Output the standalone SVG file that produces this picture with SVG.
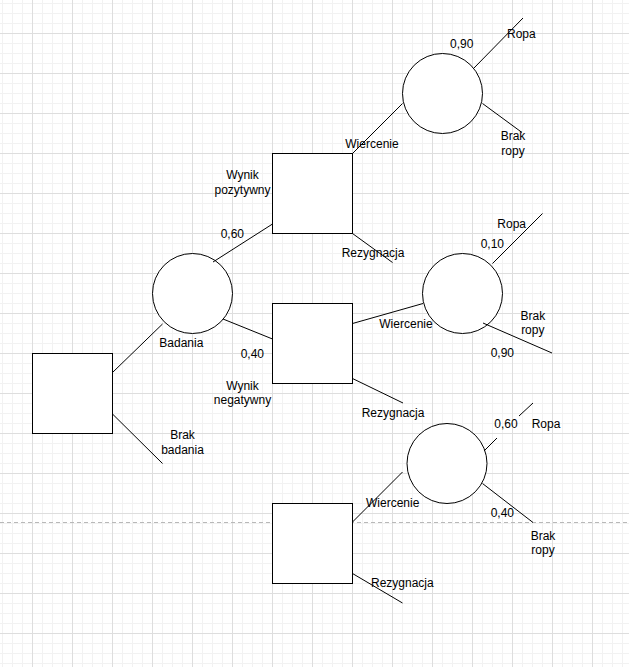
<svg xmlns="http://www.w3.org/2000/svg" width="629" height="667" viewBox="0 0 629 667">
  <defs>
    <pattern id="minor" patternUnits="userSpaceOnUse" x="2" y="3" width="10" height="10">
      <path d="M0 0.5H10M0.5 0V10" fill="none" stroke="#f2f2f2" stroke-width="1"/>
    </pattern>
    <pattern id="major" patternUnits="userSpaceOnUse" x="32" y="33" width="40" height="40">
      <path d="M0 0.5H40M0.5 0V40" fill="none" stroke="#dedede" stroke-width="1"/>
    </pattern>
  </defs>
  <style>
    .shape { fill: #ffffff; stroke: #000000; stroke-width: 1; }
    .edge { fill: none; stroke: #000000; stroke-width: 1; }
    text { font-family: "Liberation Sans", Arial, Helvetica, sans-serif; font-size: 12px; fill: #000000; }
    .c { text-anchor: middle; }
  </style>
  <rect x="0" y="0" width="629" height="667" fill="#ffffff"/>
  <rect x="0" y="0" width="629" height="667" fill="url(#minor)"/>
  <rect x="0" y="0" width="629" height="667" fill="url(#major)"/>
  <line x1="0" y1="522.5" x2="629" y2="522.5" stroke="#b8b8b8" stroke-width="1" stroke-dasharray="4 3"/>

  <g id="decision-start"><rect class="shape" x="32.5" y="353.5" width="80" height="80"/></g>
  <g id="chance-badania"><circle class="shape" cx="192.5" cy="293.5" r="40"/></g>
  <g id="decision-pozytywny"><rect class="shape" x="272.5" y="153.5" width="80" height="80"/></g>
  <g id="decision-negatywny"><rect class="shape" x="272.5" y="303.5" width="80" height="80"/></g>
  <g id="decision-brak"><rect class="shape" x="272.5" y="503.5" width="80" height="80"/></g>
  <g id="chance-top"><circle class="shape" cx="442.5" cy="93.5" r="40"/></g>
  <g id="chance-middle"><circle class="shape" cx="462.5" cy="293.5" r="40"/></g>
  <g id="chance-bottom"><circle class="shape" cx="447" cy="463.5" r="40"/></g>

  <g id="connectors">
    <path class="edge" d="M112.5 372.5L162.5 324"/>
    <path class="edge" d="M112.5 414L162.5 463.5"/>
    <path class="edge" d="M213 262L272.5 224"/>
    <path class="edge" d="M223 319L272.5 339"/>
    <path class="edge" d="M352.5 153.5L402.5 103.5"/>
    <path class="edge" d="M352.5 233.5L392.5 262.5"/>
    <path class="edge" d="M474 68L523 18"/>
    <path class="edge" d="M482.5 103.5L522 132.5"/>
    <path class="edge" d="M352.5 323.5L423 303.5"/>
    <path class="edge" d="M352.5 378.5L403 403"/>
    <path class="edge" d="M492.5 263.5L542.5 213.5"/>
    <path class="edge" d="M483 323L552 353"/>
    <path class="edge" d="M352.5 522L402.5 472"/>
    <path class="edge" d="M352.5 573.5L402.5 603"/>
    <path class="edge" d="M484 451L497 438M519 416L533 403"/>
    <path class="edge" d="M482.5 483.5L533 522.5"/>
  </g>

  <g id="labels">
    <text x="450" y="48">0,90</text>
    <text x="507" y="37.5">Ropa</text>
    <text class="c" x="513" y="140">Brak</text>
    <text class="c" x="513" y="154.5">ropy</text>
    <text x="345.3" y="147.5">Wiercenie</text>
    <text class="c" x="242.5" y="179.3">Wynik</text>
    <text class="c" x="242.5" y="193.7">pozytywny</text>
    <text x="220.7" y="237.7">0,60</text>
    <text x="341.7" y="257.3">Rezygnacja</text>
    <text x="159.3" y="347.3">Badania</text>
    <text x="240.7" y="358">0,40</text>
    <text class="c" x="242.5" y="390">Wynik</text>
    <text class="c" x="242.5" y="404.4">negatywny</text>
    <text x="361.7" y="416.7">Rezygnacja</text>
    <text x="379.3" y="327.7">Wiercenie</text>
    <text x="497.3" y="227.7">Ropa</text>
    <text x="480.7" y="248.3">0,10</text>
    <text class="c" x="532.8" y="320">Brak</text>
    <text class="c" x="532.8" y="334.4">ropy</text>
    <text x="490.7" y="357.3">0,90</text>
    <text class="c" x="182.5" y="439.3">Brak</text>
    <text class="c" x="182.5" y="453.7">badania</text>
    <text x="494.3" y="427.7">0,60</text>
    <text x="531.7" y="427.7">Ropa</text>
    <text x="366" y="507.3">Wiercenie</text>
    <text x="490.7" y="517.3">0,40</text>
    <text class="c" x="543" y="540">Brak</text>
    <text class="c" x="543" y="554.4">ropy</text>
    <text x="371" y="586.7">Rezygnacja</text>
  </g>
</svg>
